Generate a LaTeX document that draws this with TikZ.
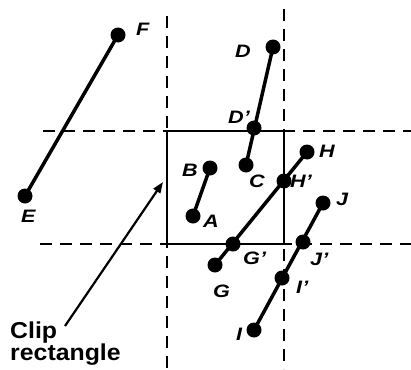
\documentclass[tikz,border=0pt]{standalone}
\usepackage{fontspec}
\setmainfont{Liberation Sans}
\usetikzlibrary{arrows.meta}
\tikzset{
  x=1pt, y=-1pt,
  dot/.style={circle, fill=black, inner sep=0pt, minimum size=15pt},
  seg/.style={line width=3.5pt},
  ext/.style={line width=2pt, dash pattern=on 12pt off 8pt},
  cliprect/.style={line width=1.8pt},
  lab/.style={anchor=base west, inner sep=0pt, xscale=1.2, font=\fontsize{18}{18}\selectfont\bfseries\itshape},
  caption/.style={anchor=base west, inner sep=0pt, xscale=1.08, font=\fontsize{23}{23}\selectfont\bfseries},
}
\begin{document}
\begin{tikzpicture}
\useasboundingbox (0,0) rectangle (411,369);
% extended edges of clip rectangle
\draw[ext] (167,16) -- (167,369);
\draw[ext] (284,9) -- (284,369);
\draw[ext] (43,131) -- (411,131);
\draw[ext] (40,244) -- (411,244);
% clip rectangle
\draw[cliprect] (167,131) rectangle (284,244);
% end points
\node[dot] (F) at (118,35) {};
\node[dot] (E) at (25,196) {};
\node[dot] (D) at (273,47) {};
\node[dot] (Dp) at (254,128) {};
\node[dot] (C) at (246,165) {};
\node[dot] (B) at (210,168) {};
\node[dot] (A) at (193,216) {};
\node[dot] (H) at (307,152) {};
\node[dot] (Hp) at (284,181) {};
\node[dot] (Gp) at (233,244) {};
\node[dot] (G) at (215,265) {};
\node[dot] (J) at (323,203) {};
\node[dot] (Jp) at (303,242) {};
\node[dot] (Ip) at (282,278) {};
\node[dot] (I) at (254,330) {};
% segments
\draw[seg] (E.center) -- (F.center);
\draw[seg] (C.center) -- (D.center);
\draw[seg] (A.center) -- (B.center);
\draw[seg] (G.center) -- (H.center);
\draw[seg] (I.center) -- (J.center);
% labels
\node[lab] (lF) at (136,35) {F};
\node[lab] (lE) at (21,222) {E};
\node[lab] (lD) at (235,57) {D};
\node[lab] (lDp) at (228,123) {D'};
\node[lab] (lC) at (249,187) {C};
\node[lab] (lB) at (182,176) {B};
\node[lab] (lA) at (203,227) {A};
\node[lab] (lH) at (319,157) {H};
\node[lab] (lHp) at (290,187) {H'};
\node[lab] (lGp) at (243,264) {G'};
\node[lab] (lG) at (213,297) {G};
\node[lab] (lJ) at (336,205) {J};
\node[lab] (lJp) at (310,265) {J'};
\node[lab] (lIp) at (296,293) {I'};
\node[lab] (lI) at (236,340) {I};
% caption and arrow
\node[caption] (clip) at (10,338) {Clip};
\node[caption] (rect) at (10,360) {rectangle};
\coordinate (tail) at (65,326);
\coordinate (head) at (163,182);
\draw[line width=2.2pt, -{Triangle[length=11pt,width=8pt]}] (tail) -- (head);
\end{tikzpicture}
\end{document}
